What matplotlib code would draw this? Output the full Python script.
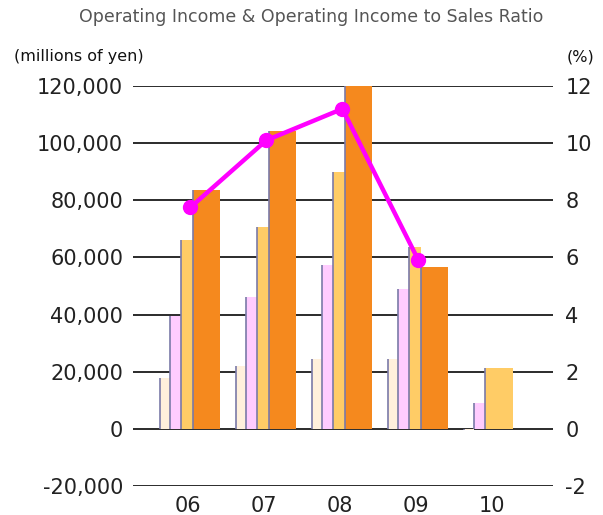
import matplotlib
matplotlib.use("Agg")
import matplotlib.pyplot as plt
import numpy as np

# fiscal years
years = ['06', '07', '08', '09', '10']

# operating income, millions of yen (cumulative quarters)
q1 = [17900, 22100, 24600, 24600, -300]
q2 = [39600, 46300, 57200, 48800, 9100]
q3 = [66000, 70500, 89800, 63500, 21400]
full_year = [83500, 104200, 120500, 56500]

# operating income to sales ratio (%)
ratio = [7.75, 10.1, 11.2, 5.9]

y_ticks = [-20000, 0, 20000, 40000, 60000, 80000, 100000, 120000]
r_ticks = [-2, 0, 2, 4, 6, 8, 10, 12]

fig = plt.figure(figsize=(6.03, 5.15), dpi=100)
ax = fig.add_axes([133 / 603, 1 - 486 / 515, 420 / 603, 400 / 515])

x = np.arange(len(years))
edge_col = '#7a7aa8'

# thin bars: (offset, width, colour, values)
thin = [
    (-0.368, 0.131, '#fff0dc', q1),
    (-0.237, 0.145, '#ffccff', q2),
    (-0.092, 0.158, '#ffcc66', q3),
]
for off, w, col, vals in thin:
    xs = x[:4] + off
    ax.bar(xs, vals[:4], width=w, align='edge', color=col, zorder=3)
    ax.vlines(xs, 0, vals[:4], color=edge_col, lw=1.2, zorder=4)

# FY10 bars (forecast shown wide)
ax.bar(x[4] - 0.368, q1[4], width=0.131, align='edge', color='#fff0dc', zorder=3)
ax.vlines(x[4] - 0.368, 0, q1[4], color=edge_col, lw=1.2, zorder=4)
ax.bar(x[4] - 0.237, q2[4], width=0.145, align='edge', color='#ffccff', zorder=3)
ax.vlines(x[4] - 0.237, 0, q2[4], color=edge_col, lw=1.2, zorder=4)
ax.bar(x[4] - 0.092, q3[4], width=0.368, align='edge', color='#ffcc66', zorder=3)
ax.vlines(x[4] - 0.092, 0, q3[4], color=edge_col, lw=1.2, zorder=4)

# full year bars
ax.bar(x[:4] + 0.066, full_year, width=0.355, align='edge', color='#f5891e', zorder=3)
ax.vlines(x[:4] + 0.066, 0, full_year, color=edge_col, lw=1.2, zorder=4)

ax.set_xlim(-0.724, 4.80)
ax.set_ylim(-20000, 120000)
ax.set_yticks(y_ticks)
ax.set_yticklabels([f'{v:,}' for v in y_ticks])
ax.set_xticks(x)
ax.set_xticklabels(years)
for s in ax.spines.values():
    s.set_visible(False)
ax.yaxis.grid(True, color='#1a1a1a', lw=1.3, zorder=1)
ax.set_axisbelow(True)
ax.tick_params(length=0, labelsize=15, colors='#222222', pad=7)

ax2 = ax.twinx()
ax2.plot(x[:4] + 0.03, ratio, color='#ff00ff', lw=3.2, marker='o', ms=10, zorder=5)
ax2.set_ylim(-2, 12)
ax2.set_yticks(r_ticks)
ax2.set_yticklabels([str(v) for v in r_ticks])
for s in ax2.spines.values():
    s.set_visible(False)
ax2.tick_params(length=0, labelsize=15, colors='#222222', pad=9)

fig.text(311 / 603, 1 - 17 / 515, 'Operating Income & Operating Income to Sales Ratio',
         ha='center', va='center', fontsize=12.5, color='#555555')
fig.text(14 / 603, 1 - 57 / 515, '(millions of yen)', ha='left', va='center',
         fontsize=11.5, color='#111111')
fig.text(580 / 603, 1 - 57 / 515, '(%)', ha='center', va='center',
         fontsize=11.5, color='#111111')

fig.savefig('out.png', dpi=100)
